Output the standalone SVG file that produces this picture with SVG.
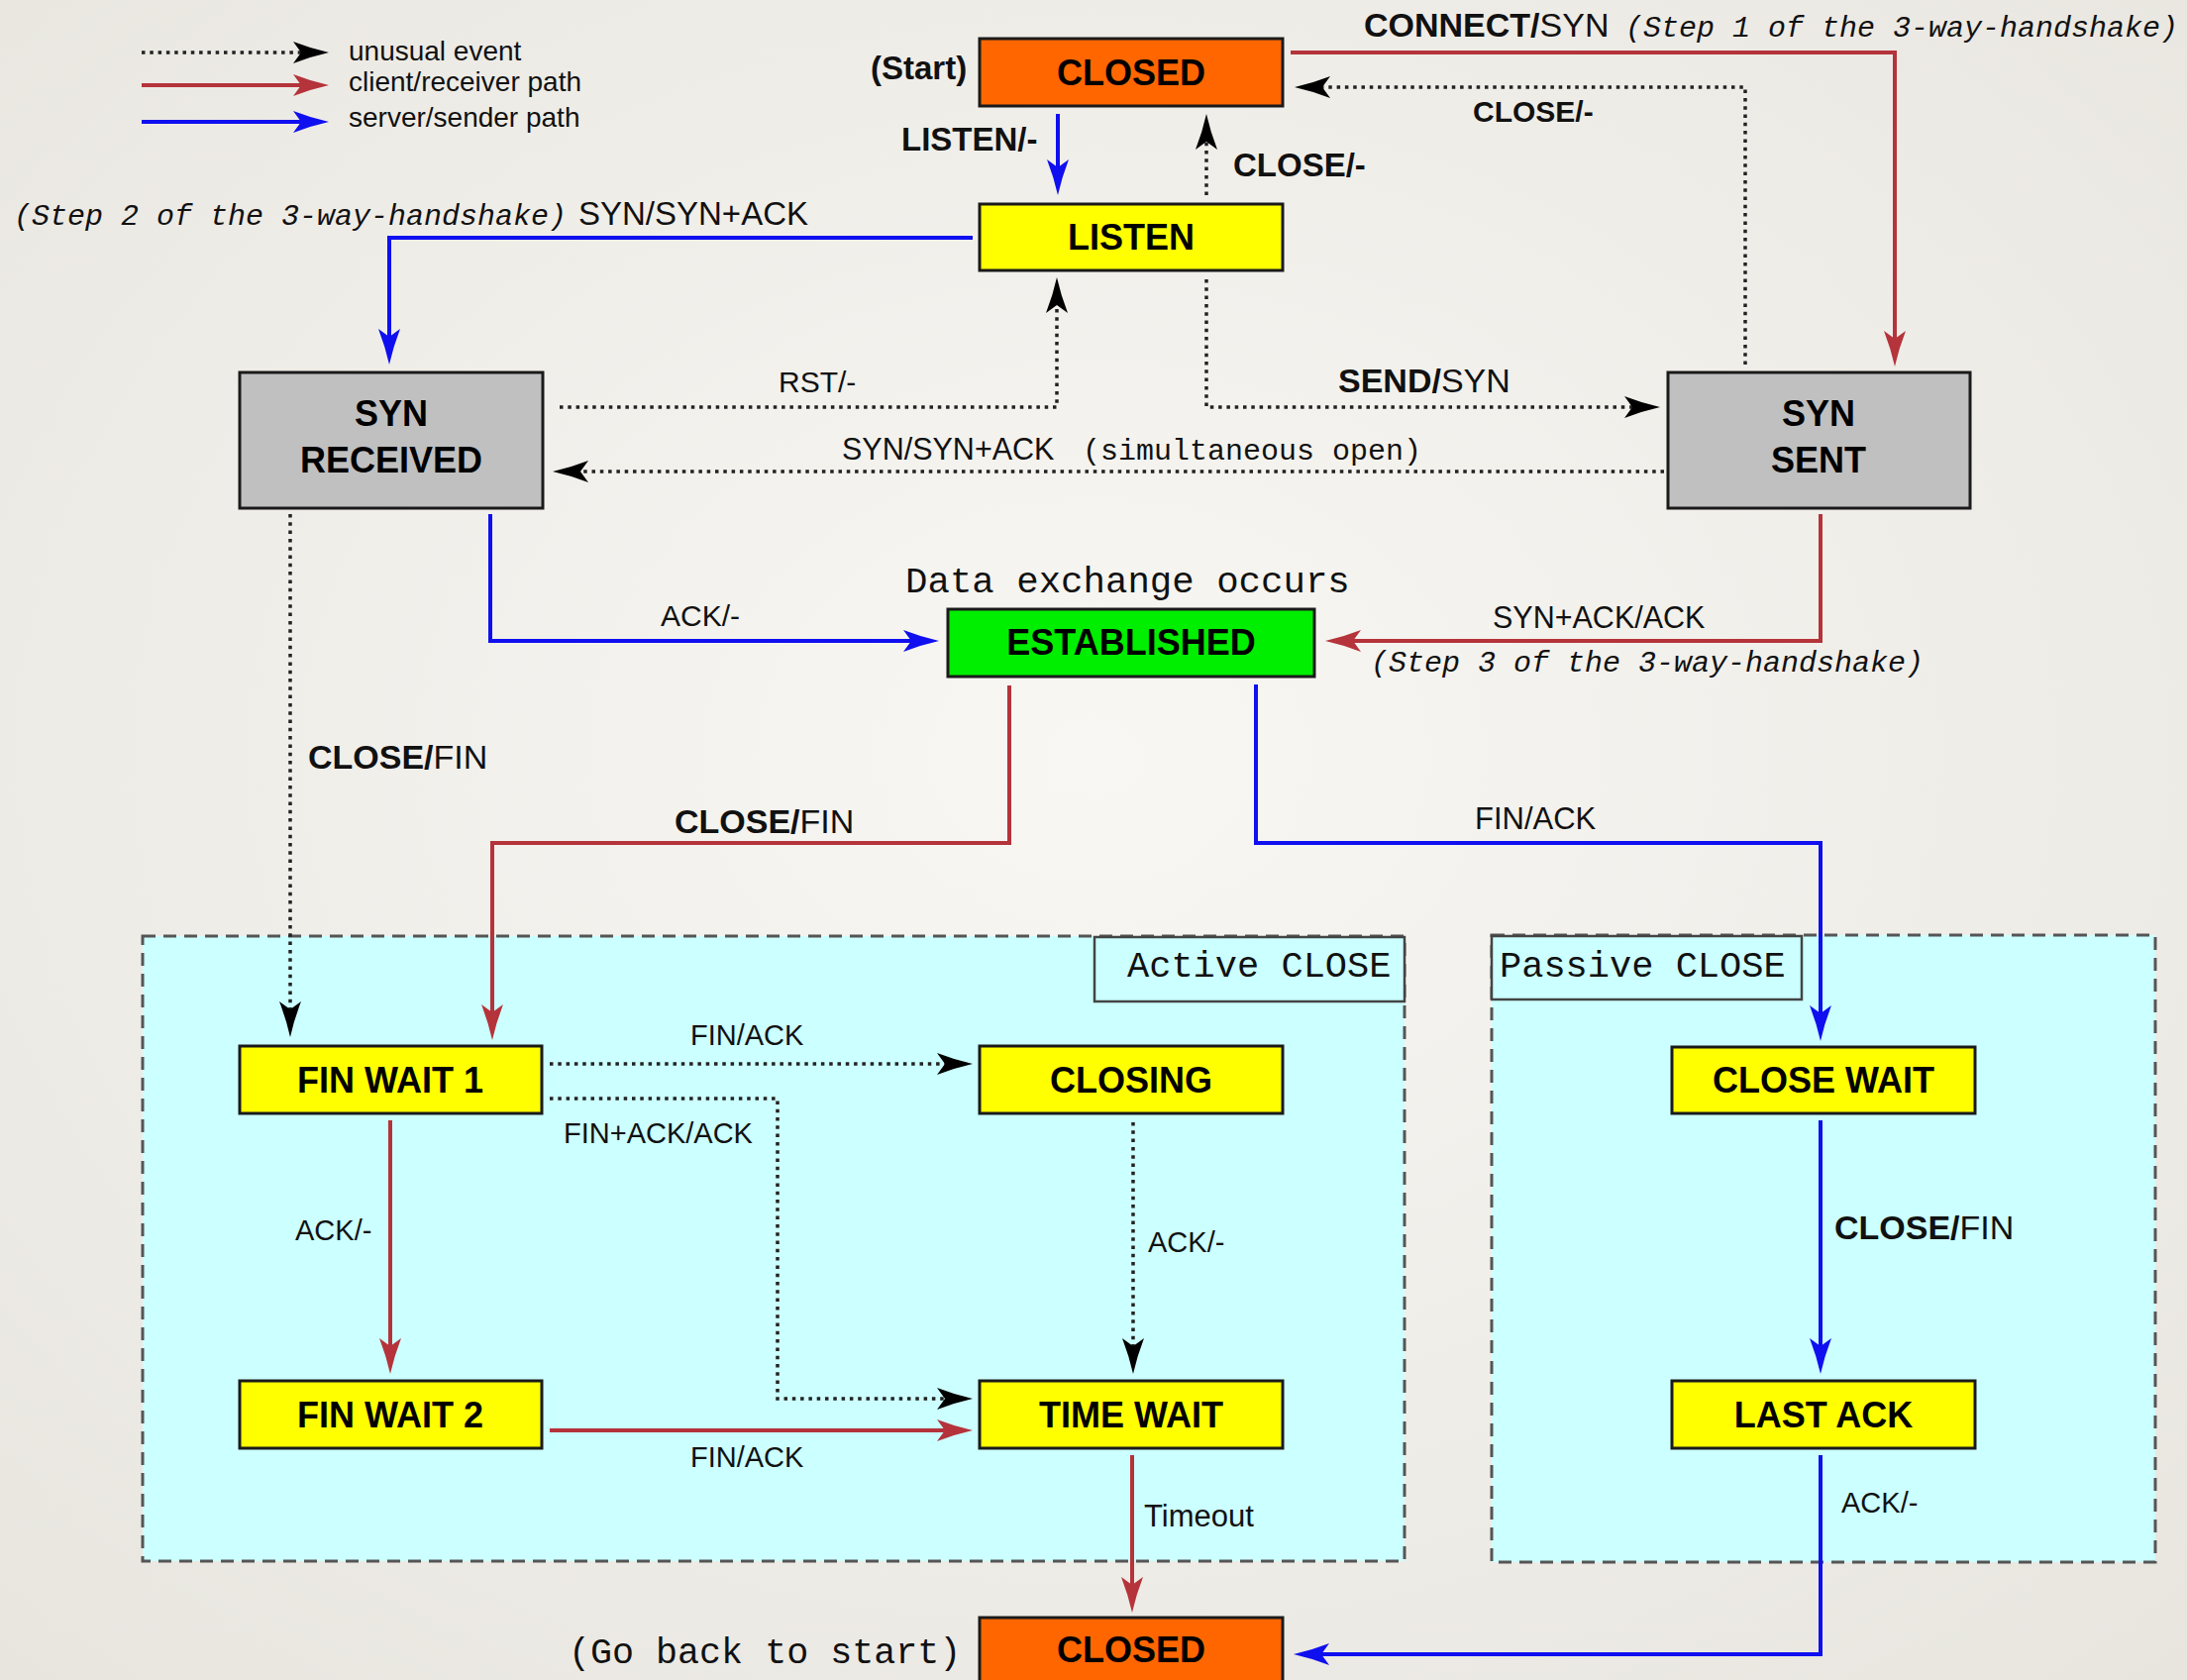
<svg xmlns="http://www.w3.org/2000/svg" width="2208" height="1696" viewBox="0 0 2208 1696">
<style>
.sans{font-family:"Liberation Sans",Arial,sans-serif;fill:#111}
.mono{font-family:"Liberation Mono","Courier New",monospace;fill:#111}
.it{font-style:italic}
.b{font-weight:bold}
.node{stroke:#1a1a1a;stroke-width:3}
.nt{font-family:"Liberation Sans",Arial,sans-serif;font-weight:bold;font-size:36px;fill:#000;text-anchor:middle}
.red{fill:none;stroke:#b5333a;stroke-width:4}
.blue{fill:none;stroke:#0f0ff0;stroke-width:4}
.dot{fill:none;stroke:#222;stroke-width:3.5;stroke-dasharray:3.5 4.8}
.region{fill:#ccffff;stroke:#555;stroke-width:3;stroke-dasharray:13 8}
.rlabel{fill:#ccffff;stroke:#444;stroke-width:2.5}
</style>
<defs>
<radialGradient id="bg" cx="50%" cy="45%" r="75%">
<stop offset="0" stop-color="#f8f7f3"/>
<stop offset="1" stop-color="#e8e5df"/>
</radialGradient>
<marker id="ak" markerUnits="userSpaceOnUse" markerWidth="36" markerHeight="22" viewBox="0 0 36 22" refX="16" refY="11" orient="auto">
<path d="M0,0 Q18,7 36,11 Q18,15 0,22 L8,11 Z" fill="#000"/>
</marker>
<marker id="ar" markerUnits="userSpaceOnUse" markerWidth="36" markerHeight="22" viewBox="0 0 36 22" refX="16" refY="11" orient="auto">
<path d="M0,0 Q18,7 36,11 Q18,15 0,22 L8,11 Z" fill="#b5333a"/>
</marker>
<marker id="ab" markerUnits="userSpaceOnUse" markerWidth="36" markerHeight="22" viewBox="0 0 36 22" refX="16" refY="11" orient="auto">
<path d="M0,0 Q18,7 36,11 Q18,15 0,22 L8,11 Z" fill="#0f0ff0"/>
</marker>
</defs>
<rect x="0" y="0" width="2208" height="1696" fill="url(#bg)"/>

<g id="regions">
<g id="active-close">
<rect class="region" x="144" y="945" width="1274" height="631"/>
<rect class="rlabel" x="1105" y="946" width="313" height="65"/>
<text class="mono" x="1138" y="986" font-size="37">Active CLOSE</text>
</g>
<g id="passive-close">
<rect class="region" x="1506" y="944" width="670" height="633"/>
<rect class="rlabel" x="1506" y="945" width="313" height="64"/>
<text class="mono" x="1514" y="986" font-size="37">Passive CLOSE</text>
</g>
</g>

<g id="legend">
<path class="dot" d="M143,53 H312" marker-end="url(#ak)"/>
<path class="red" d="M143,86 H312" stroke-width="5" marker-end="url(#ar)"/>
<path class="blue" d="M143,123 H312" stroke-width="5" marker-end="url(#ab)"/>
<text class="sans" x="352" y="61" font-size="28">unusual event</text>
<text class="sans" x="352" y="92" font-size="28">client/receiver path</text>
<text class="sans" x="352" y="128" font-size="28">server/sender path</text>
</g>

<g id="connectors">
<path class="red" d="M1303,53 H1913 V350" marker-end="url(#ar)"/>
<path class="dot" d="M1762,368 V88 H1327" marker-end="url(#ak)"/>
<path class="blue" d="M1068,115 V177" marker-end="url(#ab)"/>
<path class="dot" d="M1218,197 V135" marker-end="url(#ak)"/>
<path class="blue" d="M982,240 H393 V348" marker-end="url(#ab)"/>
<path class="dot" d="M565,411 H1067 V300" marker-end="url(#ak)"/>
<path class="dot" d="M1218,282 V411 H1656" marker-end="url(#ak)"/>
<path class="dot" d="M1680,476 H578" marker-end="url(#ak)"/>
<path class="blue" d="M495,519 V647 H928" marker-end="url(#ab)"/>
<path class="red" d="M1838,519 V647 H1358" marker-end="url(#ar)"/>
<path class="dot" d="M293,519 V1027" marker-end="url(#ak)"/>
<path class="red" d="M1019,692 V851 H497 V1030" marker-end="url(#ar)"/>
<path class="blue" d="M1268,691 V851 H1838 V1031" marker-end="url(#ab)"/>
<path class="dot" d="M555,1074 H962" marker-end="url(#ak)"/>
<path class="dot" d="M555,1109 H785 V1412 H962" marker-end="url(#ak)"/>
<path class="red" d="M394,1131 V1367" marker-end="url(#ar)"/>
<path class="dot" d="M1144,1133 V1367" marker-end="url(#ak)"/>
<path class="red" d="M555,1444 H962" marker-end="url(#ar)"/>
<path class="red" d="M1143,1469 V1608" marker-end="url(#ar)"/>
<path class="blue" d="M1838,1131 V1367" marker-end="url(#ab)"/>
<path class="blue" d="M1838,1469 V1670 H1326" marker-end="url(#ab)"/>
</g>

<g id="labels">
<text class="sans b" x="879" y="80" font-size="33">(Start)</text>
<text class="sans" x="1377" y="37" font-size="34"><tspan class="b">CONNECT/</tspan>SYN</text>
<text class="mono it" x="1641" y="37" font-size="30">(Step 1 of the 3-way-handshake)</text>
<text class="sans b" x="910" y="152" font-size="33">LISTEN/-</text>
<text class="sans b" x="1245" y="178" font-size="33">CLOSE/-</text>
<text class="sans b" x="1487" y="123" font-size="30">CLOSE/-</text>
<text class="mono it" x="14" y="227" font-size="30">(Step 2 of the 3-way-handshake)</text>
<text class="sans" x="584" y="227" font-size="33">SYN/SYN+ACK</text>
<text class="sans" x="786" y="396" font-size="30">RST/-</text>
<text class="sans" x="1351" y="396" font-size="34"><tspan class="b">SEND/</tspan>SYN</text>
<text class="sans" x="850" y="464" font-size="30.5">SYN/SYN+ACK</text>
<text class="mono" x="1093" y="464" font-size="30">(simultaneous open)</text>
<text class="mono" x="914" y="598" font-size="37.4">Data exchange occurs</text>
<text class="sans" x="667" y="632" font-size="30">ACK/-</text>
<text class="sans" x="1507" y="634" font-size="30.5">SYN+ACK/ACK</text>
<text class="mono it" x="1384" y="678" font-size="30">(Step 3 of the 3-way-handshake)</text>
<text class="sans" x="311" y="776" font-size="34"><tspan class="b">CLOSE/</tspan>FIN</text>
<text class="sans" x="681" y="841" font-size="34"><tspan class="b">CLOSE/</tspan>FIN</text>
<text class="sans" x="1489" y="837" font-size="31">FIN/ACK</text>
<text class="sans" x="697" y="1055" font-size="29">FIN/ACK</text>
<text class="sans" x="569" y="1154" font-size="29">FIN+ACK/ACK</text>
<text class="sans" x="298" y="1252" font-size="29">ACK/-</text>
<text class="sans" x="1159" y="1264" font-size="29">ACK/-</text>
<text class="sans" x="1852" y="1251" font-size="34"><tspan class="b">CLOSE/</tspan>FIN</text>
<text class="sans" x="697" y="1481" font-size="29">FIN/ACK</text>
<text class="sans" x="1155" y="1541" font-size="31">Timeout</text>
<text class="sans" x="1859" y="1527" font-size="29">ACK/-</text>
<text class="mono" x="574" y="1679" font-size="36.7">(Go back to start)</text>
</g>

<g id="closed-top">
<rect class="node" x="989" y="39" width="306" height="68" fill="#ff6600"/>
<text class="nt" x="1142" y="86">CLOSED</text>
</g>
<g id="listen">
<rect class="node" x="989" y="206" width="306" height="67" fill="#ffff00"/>
<text class="nt" x="1142" y="252">LISTEN</text>
</g>
<g id="syn-received">
<rect class="node" x="242" y="376" width="306" height="137" fill="#c0c0c0" stroke="#333"/>
<text class="nt" x="395" y="430">SYN</text>
<text class="nt" x="395" y="477">RECEIVED</text>
</g>
<g id="syn-sent">
<rect class="node" x="1684" y="376" width="305" height="137" fill="#c0c0c0" stroke="#333"/>
<text class="nt" x="1836" y="430">SYN</text>
<text class="nt" x="1836" y="477">SENT</text>
</g>
<g id="established">
<rect class="node" x="957" y="615" width="370" height="68" fill="#00ee00"/>
<text class="nt" x="1142" y="661">ESTABLISHED</text>
</g>
<g id="fin-wait-1">
<rect class="node" x="242" y="1056" width="305" height="68" fill="#ffff00"/>
<text class="nt" x="394" y="1103">FIN WAIT 1</text>
</g>
<g id="closing">
<rect class="node" x="989" y="1056" width="306" height="68" fill="#ffff00"/>
<text class="nt" x="1142" y="1103">CLOSING</text>
</g>
<g id="fin-wait-2">
<rect class="node" x="242" y="1394" width="305" height="68" fill="#ffff00"/>
<text class="nt" x="394" y="1441">FIN WAIT 2</text>
</g>
<g id="time-wait">
<rect class="node" x="989" y="1394" width="306" height="68" fill="#ffff00"/>
<text class="nt" x="1142" y="1441">TIME WAIT</text>
</g>
<g id="close-wait">
<rect class="node" x="1688" y="1057" width="306" height="67" fill="#ffff00"/>
<text class="nt" x="1841" y="1103">CLOSE WAIT</text>
</g>
<g id="last-ack">
<rect class="node" x="1688" y="1394" width="306" height="68" fill="#ffff00"/>
<text class="nt" x="1841" y="1441">LAST ACK</text>
</g>
<g id="closed-bottom">
<rect class="node" x="989" y="1633" width="306" height="70" fill="#ff6600"/>
<text class="nt" x="1142" y="1678">CLOSED</text>
</g>
</svg>
